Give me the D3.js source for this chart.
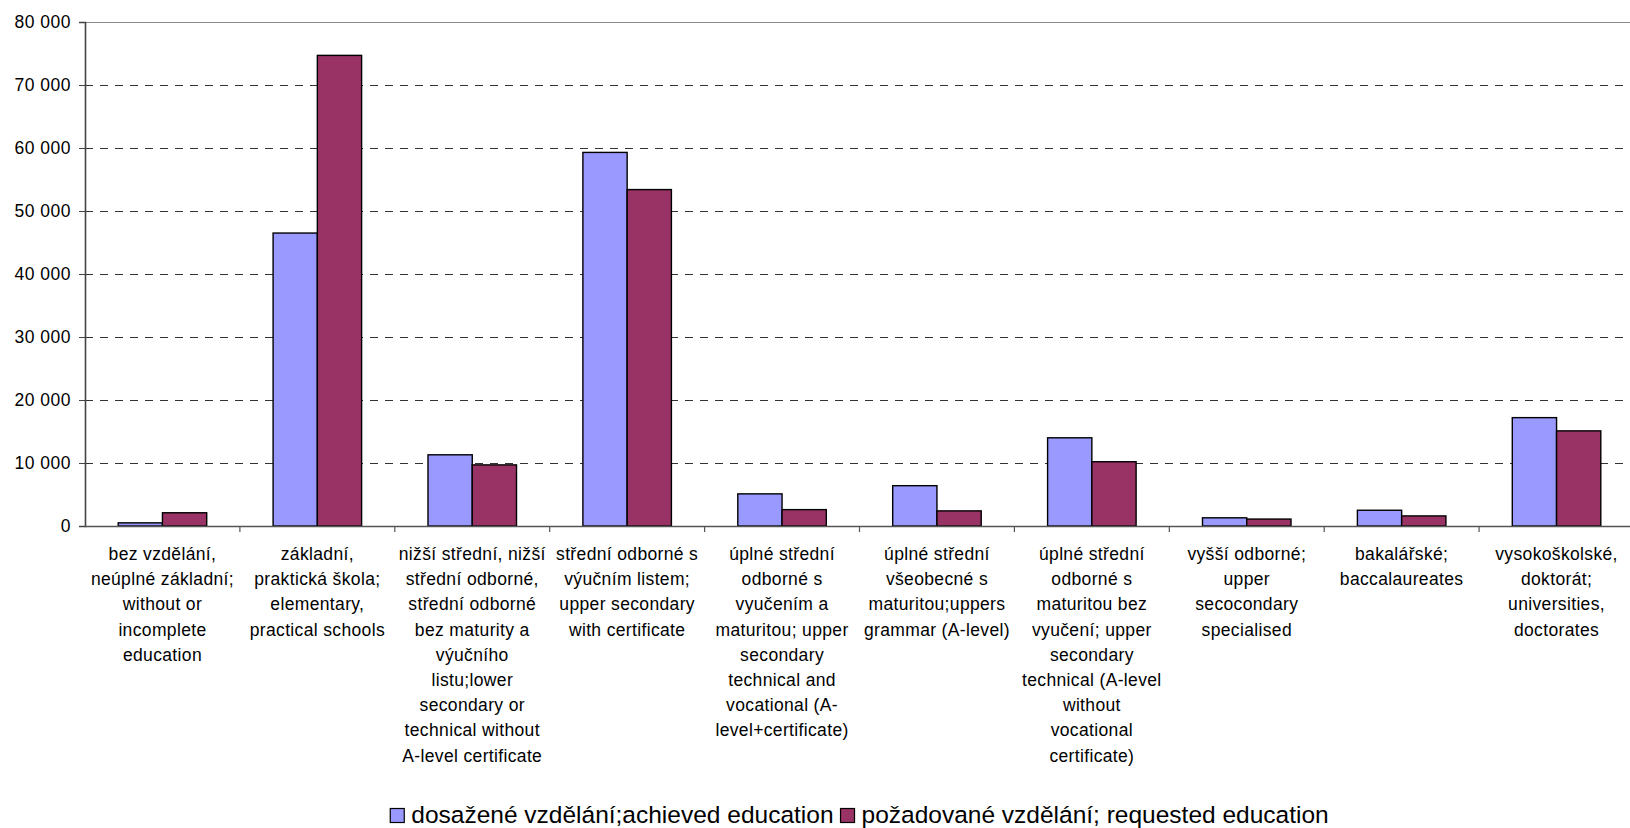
<!DOCTYPE html>
<html>
<head>
<meta charset="utf-8">
<script src="https://cdn.jsdelivr.net/npm/d3@7"></script>
<style>
  html, body { margin: 0; padding: 0; background: #fff; }
  svg { display: block; }
  text { font-family: "Liberation Sans", Arial, sans-serif; fill: #000; }
</style>
</head>
<body>
<svg id="chart" width="1630" height="828"></svg>
<script>
// ---- data ----
const categories = [
  ["bez vzdělání,", "neúplné základní;", "without or", "incomplete", "education"],
  ["základní,", "praktická škola;", "elementary,", "practical schools"],
  ["nižší střední, nižší", "střední odborné,", "střední odborné", "bez maturity a", "výučního", "listu;lower", "secondary or", "technical without", "A-level certificate"],
  ["střední odborné s", "výučním listem;", "upper secondary", "with certificate"],
  ["úplné střední", "odborné s", "vyučením a", "maturitou; upper", "secondary", "technical and", "vocational (A-", "level+certificate)"],
  ["úplné střední", "všeobecné s", "maturitou;uppers", "grammar (A-level)"],
  ["úplné střední", "odborné s", "maturitou bez", "vyučení; upper", "secondary", "technical (A-level", "without", "vocational", "certificate)"],
  ["vyšší odborné;", "upper", "secocondary", "specialised"],
  ["bakalářské;", "baccalaureates"],
  ["vysokoškolské,", "doktorát;", "universities,", "doctorates"]
];
const seriesNames = ["dosažené vzdělání;achieved education", "požadované vzdělání; requested education"];
const achieved  = [500, 46500, 11300, 59300, 5100, 6400, 14000, 1300, 2500, 17200];
const requested = [2100, 74700, 9700, 53400, 2600, 2400, 10200, 1100, 1600, 15100];
const yTicks = [0, 10000, 20000, 30000, 40000, 50000, 60000, 70000, 80000];
const colors = ["#9999FF", "#993366"];

// ---- layout ----
const svg = d3.select("#chart");
const pLeft = 85, pRight = 1634, pTop = 22, pBottom = 526;

const x = d3.scaleBand().domain(d3.range(categories.length)).range([pLeft, pRight]).paddingInner(0).paddingOuter(0);
const y = d3.scaleLinear().domain([0, 80000]).range([pBottom, pTop]);
// Excel gap width 150%: bars take 2/(2+1.5) of the band
const groupW = x.bandwidth() * 2 / 3.5;
const xs = d3.scaleBand().domain([0, 1]).range([0, groupW]);

const fmt = v => d3.format(",")(v).replace(/,/g, " ");

// gridlines
const g = svg.append("g");
g.selectAll("line.grid").data(yTicks.filter(t => t > 0 && t < 80000)).enter().append("line")
  .attr("x1", pLeft).attr("x2", 1630)
  .attr("y1", d => Math.round(y(d)) + 0.5).attr("y2", d => Math.round(y(d)) + 0.5)
  .attr("stroke", "#333").attr("stroke-width", 1).attr("stroke-dasharray", "8,7");
// top line
g.append("line").attr("x1", pLeft).attr("x2", 1630)
  .attr("y1", y(80000) + 0.5).attr("y2", y(80000) + 0.5)
  .attr("stroke", "#888").attr("stroke-width", 1.2);

// bars
const series = [achieved, requested];
series.forEach((vals, si) => {
  svg.append("g").selectAll("rect").data(vals).enter().append("rect")
    .attr("x", (d, i) => x(i) + (x.bandwidth() - groupW) / 2 + xs(si))
    .attr("y", d => y(d))
    .attr("width", xs.bandwidth())
    .attr("height", d => y(0) - y(d))
    .attr("fill", colors[si])
    .attr("stroke", "#000").attr("stroke-width", 1.4);
});

// y axis
const yAxis = d3.axisLeft(y).tickValues(yTicks).tickFormat(fmt).tickSize(6).tickPadding(8);
const ya = svg.append("g").attr("transform", `translate(${pLeft},0)`).call(yAxis);
ya.select(".domain").attr("stroke", "#444").attr("stroke-width", 1.6);
ya.selectAll(".tick line").attr("stroke", "#444");
ya.selectAll(".tick text").attr("font-size", 17.5).attr("letter-spacing", "0.5px")
  .attr("font-family", "'Liberation Sans', Arial, sans-serif").attr("fill", "#000");

// x axis line and ticks at category boundaries
const xa = svg.append("g");
xa.append("line").attr("x1", pLeft).attr("x2", 1630).attr("y1", pBottom + 0.5).attr("y2", pBottom + 0.5)
  .attr("stroke", "#555").attr("stroke-width", 1.3);
xa.selectAll("line.tk").data(d3.range(1, categories.length)).enter().append("line")
  .attr("x1", d => x(d)).attr("x2", d => x(d))
  .attr("y1", pBottom).attr("y2", pBottom + 6)
  .attr("stroke", "#555").attr("stroke-width", 1.2);

// category labels
const lab = svg.append("g");
categories.forEach((lines, i) => {
  const t = lab.append("text")
    .attr("x", x(i) + x.bandwidth() / 2)
    .attr("y", 560)
    .attr("text-anchor", "middle")
    .attr("font-size", 17.5)
    .attr("letter-spacing", "0.35px");
  lines.forEach((ln, k) => {
    t.append("tspan").attr("x", x(i) + x.bandwidth() / 2).attr("y", 560 + k * 25.2).text(ln);
  });
});

// legend
const leg = svg.append("g");
const legFont = 24.5;
const tmp = leg.append("text").attr("font-size", legFont);
const widths = seriesNames.map(n => { tmp.text(n); return tmp.node().getComputedTextLength(); });
tmp.remove();
const sq = 14, gapSq = 7, gapItem = 7;
const total = widths[0] + widths[1] + 2 * (sq + gapSq) + gapItem;
let cx = (pLeft + pRight) / 2 - total / 2;
seriesNames.forEach((n, i) => {
  leg.append("rect").attr("x", cx).attr("y", 808.5).attr("width", sq).attr("height", sq)
    .attr("fill", colors[i]).attr("stroke", "#000").attr("stroke-width", 1.2);
  leg.append("text").attr("x", cx + sq + gapSq).attr("y", 823).attr("font-size", legFont).text(n);
  cx += sq + gapSq + widths[i] + gapItem;
});
</script>
</body>
</html>
